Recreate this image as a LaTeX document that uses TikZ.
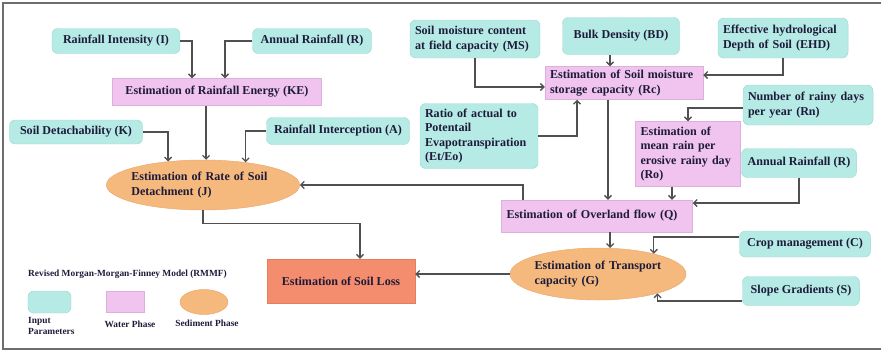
\documentclass[tikz,border=0pt]{standalone}
\usepackage{fontspec}
\setmainfont{Liberation Serif}
\usetikzlibrary{shapes.geometric,arrows.meta}
\definecolor{inpfill}{HTML}{B5EAE5}
\definecolor{inpline}{HTML}{9FDAD3}
\definecolor{waterfill}{HTML}{F0C4EF}
\definecolor{waterline}{HTML}{DDB0DB}
\definecolor{sedfill}{HTML}{F5B97D}
\definecolor{sedline}{HTML}{EAA96C}
\definecolor{lossfill}{HTML}{F48C6E}
\definecolor{lossline}{HTML}{E87C5E}
\definecolor{txt}{HTML}{1E1B3A}
\definecolor{arrc}{HTML}{505050}
\definecolor{framec}{HTML}{6E6E6E}
\newcommand\legfont{\fontsize{8}{9.5}\selectfont\bfseries}
\begin{document}
\begin{tikzpicture}[x=0.03cm,y=-0.03cm,
  every node/.style={font=\fontsize{10.3}{12.3}\selectfont\bfseries,text=txt},
  inp/.style={draw=inpline,fill=inpfill,rounded corners=5pt,inner xsep=0.15cm,inner ysep=2pt},
  water/.style={draw=waterline,fill=waterfill,inner xsep=0.15cm,inner ysep=2pt},
  sed/.style={draw=sedline,fill=sedfill,ellipse,inner sep=0pt},
  arr/.style={->,draw=arrc,line width=1.1pt},
  >={Straight Barb[length=3pt,width=6pt]}]
\useasboundingbox (0,0) rectangle (881,351);
\draw[framec,line width=1.2pt] (881,3) -- (3,3) -- (3,349) -- (881,349);
% sediment side
\node[inp,minimum width=3.84cm,minimum height=0.75cm] (ri) at (116,41) {Rainfall Intensity (I)};
\node[inp,minimum width=3.57cm,minimum height=0.75cm] (ar1) at (312,41) {Annual Rainfall (R)};
\node[water,minimum width=6.27cm,minimum height=0.81cm] (ke) at (217,92) {Estimation of Rainfall Energy (KE)};
\node[inp,minimum width=3.99cm,minimum height=0.72cm] (sd) at (76,132) {Soil Detachability (K)};
\node[inp,minimum width=4.29cm,minimum height=0.81cm] (ri2) at (338,131) {Rainfall Interception (A)};
\node[sed,minimum width=5.79cm,minimum height=1.5cm,text width=4.3cm,inner xsep=-0.1cm,align=left] (j) at (203,185) {Estimation of Rate of Soil\\Detachment (J)};
% water side
\node[inp,text width=3.6cm,align=left,minimum height=1.14cm] (ms) at (475,39) {Soil moisture content\\at field capacity (MS)};
\node[inp,minimum width=3.51cm,minimum height=1.11cm] (bd) at (621,36) {Bulk Density (BD)};
\node[inp,text width=3.6cm,align=left,minimum height=1.2cm] (ehd) at (783,38) {Effective hydrological\\Depth of Soil (EHD)};
\node[water,text width=4.44cm,align=left,minimum height=0.99cm] (rc) at (624,83) {Estimation of Soil moisture\\storage capacity (Rc)};
\node[inp,text width=3.24cm,align=left,minimum height=1.95cm] (et) at (479,136) {Ratio of actual to\\Potentail\\Evapotranspiration\\(Et/Eo)};
\node[inp,text width=3.6cm,align=left,minimum height=1.2cm] (rn) at (808,105) {Number of rainy days\\per year (Rn)};
\node[water,text width=2.85cm,align=left,minimum height=1.95cm] (ro) at (688,154) {Estimation of\\mean rain per\\erosive rainy day\\(Ro)};
\node[inp,minimum width=3.45cm,minimum height=0.87cm] (ar2) at (799,163) {Annual Rainfall (R)};
\node[water,text width=5.43cm,align=left,minimum height=0.96cm] (q) at (597,216) {Estimation of Overland flow (Q)};
\node[inp,minimum width=3.93cm,minimum height=0.78cm] (cm) at (805,244) {Crop management (C)};
\node[inp,minimum width=3.51cm,minimum height=0.87cm] (sg) at (801,291) {Slope Gradients (S)};
\node[sed,minimum width=5.28cm,minimum height=1.56cm,text width=3.8cm,inner xsep=-0.05cm,align=left] (g) at (598,274) {Estimation of Transport\\capacity (G)};
\node[draw=lossline,fill=lossfill,minimum width=4.44cm,minimum height=1.32cm] (loss) at (341,281) {Estimation of Soil Loss};
% legend
\node[anchor=west,font=\legfont] (lt) at (24,274) {Revised Morgan-Morgan-Finney Model (RMMF)};
\node[inp,minimum width=1.29cm,minimum height=0.66cm] (l1) at (49.5,302) {};
\node[water,minimum width=1.14cm,minimum height=0.63cm] (l2) at (125,301.5) {};
\node[sed,minimum width=1.44cm,minimum height=0.75cm] (l3) at (204,302) {};
\node[font=\legfont,anchor=north west,align=left,inner sep=0pt] (l1t) at (28,317) {Input\\Parameters};
\node[font=\legfont] (l2t) at (130,324) {Water Phase};
\node[font=\legfont] (l3t) at (207,323) {Sediment Phase};
% connectors
\draw[arr] (ri.east) -| ([xshift=-0.75cm]ke.north);
\draw[arr] (ar1.west) -| ([xshift=0.24cm]ke.north);
\draw[arr] (j.83 |- ke.south) -- (j.83);
\draw[arr] (sd.east) -| (j.146);
\draw[arr] (ri2.west) -| (j.28);
\draw[arr] (j.south) -- ++(0,13) -| ([xshift=0.57cm]loss.north);
\draw[arr] ([xshift=-2.22cm]q.north) |- (j.east);
\draw[arr] (g.west) -- (g.west -| loss.east);
\draw[arr] (g.65 |- q.south) -- (g.65);
\coordinate (rcq) at ([xshift=-0.48cm]rc.south);
\draw[arr] (rcq) -- (rcq |- q.north);
\draw[arr] (ms.south) |- ([yshift=-0.12cm]rc.west);
\draw[arr] (et.east) -| ([xshift=-1.41cm]rc.south);
\coordinate (bdc) at ([xshift=-0.33cm]bd.south);
\draw[arr] (bdc) -- (bdc |- rc.north);
\draw[arr] (ehd.south) |- ([yshift=0.24cm]rc.east);
\draw[arr] ([yshift=-0.09cm]rn.west) -| (ro.north);
\coordinate (roq) at ([xshift=-0.48cm]ro.south);
\draw[arr] (roq) -- (roq |- q.north);
\draw[arr] (ar2.south) |- ([yshift=0.39cm]q.east);
\draw[arr] ([yshift=0.21cm]cm.west) -| (g.20);
\draw[arr] ([yshift=-0.3cm]sg.west) -| (g.-18);
\end{tikzpicture}
\end{document}
